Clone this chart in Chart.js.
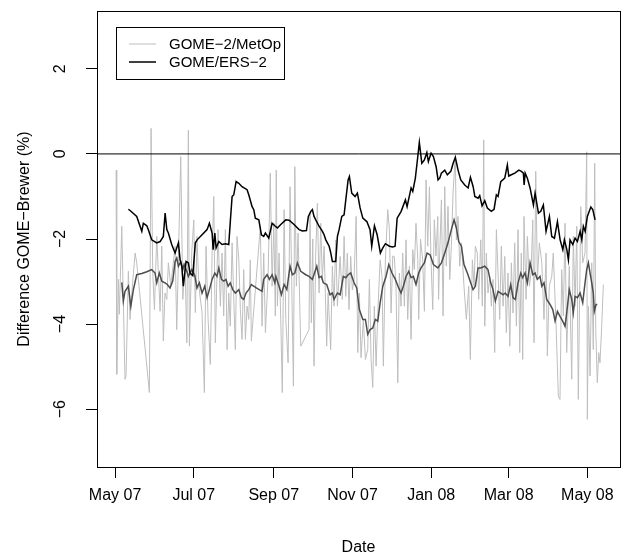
<!DOCTYPE html>
<html>
<head>
<meta charset="utf-8">
<script src="https://cdn.jsdelivr.net/npm/chart.js@4.4.1/dist/chart.umd.min.js"></script>
<style>
html,body{margin:0;padding:0;background:#fff;}
#wrap{width:634px;height:558px;}
</style>
</head>
<body>
<div id="wrap"><canvas id="c" width="634" height="558"></canvas></div>
<script>
// ---- data (x = days since 1 May 2007) ----
const tickDays   = [0, 61, 123, 184, 245, 305, 366];
const tickLabels = ["May 07", "Jul 07", "Sep 07", "Nov 07", "Jan 08", "Mar 08", "May 08"];
const yTicks     = [-6, -4, -2, 0, 2];
const seriesLabels = ["GOME\u22122/MetOp", "GOME/ERS\u22122"];

const metopDays = [0.8,1.3,2.6,3.3,5.2,7.7,8.5,10.3,11.6,13.4,15.5,16.8,26.6,27.9,29.2,30.5,32.3,34.9,36.2,37.4,38.7,40.1,41.3,43.2,46.5,47.8,49.1,50.9,52.5,54.2,55.6,56.8,57.6,59.4,61.0,62.2,63.5,64.9,67.4,69.2,70.5,72.1,73.8,75.2,76.5,77.7,79.8,81.6,82.9,84.2,85.5,86.8,88.1,89.3,90.7,92.0,93.2,94.5,95.9,97.1,98.4,99.7,101.0,102.3,103.6,104.8,105.6,112.6,113.9,115.2,116.5,118.6,120.3,121.7,123.0,124.2,124.9,125.8,127.1,128.4,129.6,131.0,132.3,134.1,135.6,136.9,138.2,139.3,140.5,141.8,143.9,150.3,151.1,152.1,153.2,154.2,155.5,156.8,158.1,159.4,160.6,162.0,164.0,165.1,167.1,168.4,169.7,171.0,172.3,174.4,176.1,177.5,178.8,180.0,181.3,182.6,183.9,185.2,186.8,188.1,189.3,190.6,192.4,194.0,195.8,197.1,198.4,199.7,200.9,202.3,203.6,205.4,206.9,207.9,209.5,211.3,212.6,213.9,215.2,216.4,217.7,219.1,220.3,221.6,222.9,224.2,225.5,226.8,228.1,229.4,230.7,231.9,233.2,234.6,235.3,236.7,238.4,239.7,241.0,242.3,243.6,244.9,246.2,247.4,248.7,250.1,250.7,251.6,252.9,254.2,255.5,256.7,258.0,259.4,260.6,261.9,263.7,264.5,265.8,267.1,268.4,270.4,272.2,274.1,275.3,276.9,278.2,279.2,280.7,281.8,283.4,284.6,285.7,286.5,287.7,289.0,290.4,291.6,292.9,294.2,295.5,296.8,298.1,299.3,300.7,302.0,303.2,304.5,305.9,307.1,308.4,309.7,311.0,312.3,313.6,314.8,315.9,316.9,318.5,319.5,321.1,322.4,323.7,324.7,326.0,327.3,328.8,330.7,332.4,334.0,335.0,336.5,338.4,339.6,341.7,343.5,344.8,346.1,347.4,348.7,350.0,352.0,353.9,355.1,356.5,357.8,359.0,360.9,362.4,364.2,365.5,366.0,366.8,368.1,369.4,370.6,371.7,372.5,373.7,374.8,375.8,377.1,378.4];
const metopDiff = [-0.38,-5.18,-2.95,-3.77,-1.70,-5.30,-5.22,-2.76,-3.89,-3.11,-2.33,-2.56,-5.61,0.60,-2.80,-3.66,-1.94,-3.70,-2.17,-4.40,-3.27,-3.42,-2.56,-3.11,-2.17,-4.13,-2.45,-0.06,-3.42,-2.56,-4.44,0.56,-4.52,-2.33,-1.55,-3.73,-1.94,-3.11,-3.73,-5.61,-2.17,-3.89,-4.95,-2.33,-1.00,-4.44,-1.78,-3.58,-2.33,-3.81,-1.78,-4.60,-3.27,-4.05,-2.09,-3.42,-4.60,-1.94,-2.49,-3.66,-4.36,-2.72,-4.36,-3.58,-3.89,-2.49,-4.40,-1.70,-4.05,-2.33,-4.20,-2.88,-0.45,-3.11,-1.63,-3.81,-0.38,-3.58,-2.33,-3.89,-5.61,-1.31,-3.89,-4.91,-0.77,-3.00,-5.46,-0.30,-3.11,-1.86,-4.52,-4.13,-1.39,-3.97,-2.00,-4.99,-2.33,-1.16,-3.27,-1.63,-2.95,-2.17,-4.52,-3.27,-4.60,-2.64,-3.58,-2.02,-3.58,-2.41,-3.42,-1.94,-3.35,-2.33,-3.66,-2.41,-3.20,-2.95,-1.47,-4.67,-3.27,-4.79,-3.89,-4.83,-4.60,-2.95,-4.83,-5.49,-3.58,-4.99,-3.74,-2.49,-2.88,-4.99,-2.49,-1.31,-1.78,-3.74,-2.40,-2.41,-3.11,-5.38,-2.80,-3.58,-2.33,-3.58,-2.02,-3.89,-2.64,-4.36,-2.25,-2.72,-1.63,-2.49,-3.89,-2.00,-2.49,-3.70,-0.61,-2.17,-0.77,-2.56,-3.66,-1.55,-2.40,-1.47,-3.42,-2.33,-1.08,-3.81,-0.77,-2.64,-1.23,-2.95,-2.17,-0.92,-0.02,-2.02,-1.47,-2.64,-2.09,-3.11,-3.89,-3.11,-4.83,-2.49,-3.11,-2.17,-2.33,-3.42,-2.02,-3.58,0.33,-4.05,-2.33,-3.27,-2.88,-3.58,-2.95,-4.67,-1.78,-2.80,-3.89,-2.17,-3.58,-2.41,-4.20,-2.80,-4.52,-2.56,-3.74,-2.09,-4.05,-1.78,-4.67,-2.33,-4.83,-1.47,-3.42,-1.94,-3.11,-2.80,-1.55,-4.44,-0.41,-2.95,-2.09,-2.56,-3.89,-2.33,-4.75,-3.11,-2.88,-2.33,-3.97,-5.69,-5.77,-2.72,-3.81,-1.63,-4.67,-2.64,-5.30,-1.94,-3.58,-1.70,-5.77,-1.24,-2.56,-2.33,0.05,-6.24,-3.58,-5.22,-2.56,-4.60,-0.22,-4.13,-5.38,-4.67,-4.91,-4.05,-3.07];

const meanDays = [5.2,6.4,7.7,10.3,12.2,14.2,16.8,20.7,24.6,28.4,31.0,32.3,34.3,36.2,38.7,40.5,42.6,44.7,46.5,47.8,49.1,50.9,52.5,53.5,55.6,56.8,59.4,61.8,63.5,65.3,67.4,69.5,71.3,73.1,75.2,77.3,79.0,80.4,82.4,84.2,86.0,87.6,89.3,91.2,93.2,95.9,97.9,99.7,101.5,103.6,105.6,109.5,113.9,115.2,117.8,119.6,121.7,123.8,124.6,127.1,128.9,131.0,133.1,135.6,137.4,139.3,141.3,143.9,147.8,150.3,152.9,156.3,158.1,159.9,161.4,164.0,166.6,168.4,169.7,172.3,174.4,176.9,178.8,180.6,182.6,185.2,187.3,189.3,192.0,194.0,195.8,197.6,199.7,201.7,203.6,205.4,207.5,210.0,212.1,214.6,217.2,219.8,221.6,223.4,225.5,227.6,229.4,231.2,233.2,235.3,237.1,239.7,241.8,244.1,246.7,250.1,252.9,255.5,258.0,260.6,262.7,264.5,266.3,268.4,270.4,273.0,275.6,277.4,279.2,281.3,283.4,286.5,289.0,291.1,292.9,294.7,296.8,298.9,300.7,302.4,304.5,306.6,308.4,310.2,312.3,314.4,315.9,317.7,319.5,321.6,323.7,325.5,327.2,329.3,330.7,332.4,334.5,337.1,339.2,341.0,342.8,344.8,346.9,348.7,350.0,352.0,353.9,355.1,356.5,358.3,360.4,362.4,364.2,365.5,366.8,368.1,369.4,370.6,371.4,372.7,373.7];
const meanDiff = [-3.02,-3.46,-3.23,-3.11,-3.58,-3.19,-2.84,-2.81,-2.77,-2.72,-2.80,-3.03,-2.80,-2.99,-3.03,-3.07,-3.15,-2.99,-2.53,-2.45,-2.64,-2.53,-2.72,-2.60,-2.76,-2.88,-2.72,-2.86,-3.15,-3.03,-3.27,-3.11,-3.38,-3.19,-2.95,-2.80,-2.88,-2.68,-2.95,-2.99,-2.95,-3.11,-3.03,-3.19,-3.27,-3.19,-3.38,-3.42,-3.27,-3.19,-3.07,-3.15,-3.23,-2.95,-2.84,-2.95,-2.84,-3.03,-2.88,-3.11,-3.31,-3.07,-3.19,-2.64,-2.84,-2.80,-2.56,-2.76,-2.84,-2.88,-2.95,-2.64,-2.91,-2.88,-3.03,-3.07,-3.31,-3.27,-3.42,-3.27,-3.31,-2.88,-2.91,-2.84,-2.80,-3.03,-3.15,-3.66,-3.89,-3.89,-4.24,-4.13,-4.09,-3.89,-3.93,-3.50,-3.11,-2.88,-2.60,-2.80,-2.95,-3.15,-3.27,-3.11,-2.88,-2.76,-2.91,-2.88,-3.07,-2.80,-2.68,-2.56,-2.33,-2.37,-2.60,-2.68,-2.56,-2.33,-2.09,-1.78,-1.55,-1.74,-2.06,-2.17,-2.60,-2.80,-3.03,-3.19,-3.11,-2.68,-2.68,-2.64,-2.72,-3.03,-3.19,-3.46,-3.23,-3.27,-3.31,-3.27,-3.35,-3.07,-3.38,-3.42,-3.03,-2.80,-2.91,-2.80,-3.03,-2.56,-2.84,-2.80,-2.95,-2.88,-3.11,-3.03,-3.42,-3.54,-3.66,-3.93,-3.70,-3.82,-3.93,-4.05,-3.74,-3.19,-3.42,-3.74,-3.35,-3.38,-3.27,-3.50,-3.03,-2.72,-2.56,-2.80,-3.03,-3.27,-3.70,-3.54,-3.54];

const ersDays = [10.3,11.6,16.8,20.7,21.9,24.6,25.8,28.4,32.3,34.9,37.4,38.8,40.1,41.3,43.9,46.5,49.1,50.4,51.7,52.9,55.0,56.8,58.1,60.2,62.2,63.6,67.4,71.3,73.1,75.2,76.0,77.3,78.3,80.4,82.9,85.5,88.1,89.4,90.7,92.0,93.8,95.9,98.4,102.3,103.6,106.2,107.5,108.7,111.4,113.4,115.2,116.5,119.1,121.7,124.2,125.8,128.4,132.3,134.9,138.7,142.6,145.2,148.3,149.8,151.7,152.9,154.2,155.5,158.1,160.7,162.0,163.3,165.9,167.2,168.4,171.0,172.3,173.6,175.7,177.5,178.8,180.6,181.6,183.4,186.0,187.8,189.9,192.0,195.1,197.6,198.9,201.0,203.1,205.6,207.5,209.5,212.6,215.2,217.0,218.6,221.7,225.0,226.3,229.4,230.7,232.7,234.6,235.8,237.7,239.7,241.6,242.8,244.9,246.7,248.8,250.3,251.6,252.9,255.5,257.5,260.2,262.0,263.7,265.8,267.9,271.0,273.6,275.4,277.5,278.8,281.3,282.6,284.4,286.5,288.5,291.6,293.7,295.5,296.8,298.9,302.0,304.0,305.1,307.1,309.8,312.9,314.9,316.4,317.0,317.8,319.5,321.6,324.2,325.5,328.1,329.9,331.9,334.0,336.6,338.4,340.5,342.8,344.9,347.0,348.2,350.1,351.3,352.6,354.7,356.5,358.3,360.4,361.7,362.9,364.3,366.0,368.7,370.2,372.0];
const ersDiff = [-1.30,-1.33,-1.47,-1.82,-1.63,-1.69,-1.78,-2.02,-2.09,-2.06,-1.94,-1.39,-1.78,-1.86,-2.13,-2.33,-2.09,-2.49,-2.64,-3.11,-2.53,-2.56,-2.80,-2.86,-2.09,-2.02,-1.90,-1.78,-1.63,-1.86,-2.25,-1.86,-2.21,-2.06,-2.13,-2.11,-2.13,-1.55,-1.00,-0.96,-0.65,-0.69,-0.77,-0.84,-0.96,-1.24,-1.31,-1.51,-1.55,-1.90,-1.94,-1.86,-1.98,-1.63,-1.70,-1.74,-1.66,-1.55,-1.56,-1.66,-1.78,-1.81,-1.80,-1.47,-1.35,-1.31,-1.47,-1.55,-1.70,-1.82,-1.90,-2.02,-2.17,-2.33,-2.53,-2.53,-1.94,-1.78,-1.47,-1.43,-1.08,-0.61,-0.53,-0.92,-1.00,-0.92,-1.27,-1.51,-1.59,-1.78,-2.17,-1.69,-1.90,-2.33,-2.21,-2.11,-2.17,-2.19,-2.17,-1.51,-1.35,-1.08,-1.24,-0.80,-0.88,-0.57,-0.06,0.27,-0.22,-0.14,0.03,-0.18,0.02,-0.06,-0.30,-0.61,-0.57,-0.45,-0.38,-0.49,-0.41,-0.22,-0.08,-0.38,-0.61,-0.73,-0.80,-0.55,-0.77,-1.00,-1.04,-0.98,-1.22,-1.10,-1.27,-1.35,-1.30,-0.96,-1.00,-0.65,-0.57,-0.26,-0.52,-0.49,-0.45,-0.38,-0.41,-0.45,-0.73,-0.45,-0.57,-0.80,-1.20,-0.92,-1.39,-1.35,-1.20,-1.82,-1.47,-1.94,-1.98,-1.59,-2.02,-2.25,-2.02,-2.25,-2.49,-2.02,-2.13,-1.98,-2.06,-1.82,-2.02,-1.70,-1.82,-1.47,-1.25,-1.31,-1.55];

const xMin = -14, xMax = 391.3;
const yMin = -7.36, yMax = 3.36;

// ---- build ----
const pts = (xs, ys) => xs.map((x, i) => ({x: x, y: ys[i]}));
const FONT = "'Liberation Sans', Arial, Helvetica, sans-serif";
const GREY = '#bebebe', DARK = '#4d4d4d';

const decor = {
  id: 'decor',
  afterDraw(chart) {
    const ctx = chart.ctx, a = chart.chartArea;
    const xs = chart.scales.x, ys = chart.scales.y;
    ctx.save();
    ctx.strokeStyle = '#000'; ctx.lineWidth = 1;
    ctx.strokeRect(Math.round(a.left) + 0.5, Math.round(a.top) + 0.5,
                   Math.round(a.right - a.left), Math.round(a.bottom - a.top));
    ctx.fillStyle = '#000';
    ctx.font = '16px ' + FONT;
    ctx.textAlign = 'center'; ctx.textBaseline = 'middle';
    tickDays.forEach((d, i) => {
      ctx.fillText(tickLabels[i], xs.getPixelForValue(d), 496);
    });
    yTicks.forEach(v => {
      ctx.save();
      ctx.translate(61, ys.getPixelForValue(v));
      ctx.rotate(-Math.PI / 2);
      ctx.fillText(v < 0 ? '\u2212' + Math.abs(v) : String(v), 0, 0);
      ctx.restore();
    });
    ctx.fillText('Date', (a.left + a.right) / 2, 548);
    ctx.save();
    ctx.translate(25, (a.top + a.bottom) / 2);
    ctx.rotate(-Math.PI / 2);
    ctx.fillText('Difference GOME\u2212Brewer (%)', 0, 0);
    ctx.restore();
    const lx = 116.5, ly = 27.5, lw = 168, lh = 52;
    ctx.fillStyle = '#fff';
    ctx.fillRect(lx, ly, lw, lh);
    ctx.strokeStyle = '#000';
    ctx.strokeRect(lx, ly, lw, lh);
    const rows = [{c: GREY, w: 1, t: seriesLabels[0], y: 44},
                  {c: '#000', w: 1.5, t: seriesLabels[1], y: 62}];
    ctx.font = '15px ' + FONT;
    ctx.textAlign = 'left';
    rows.forEach(r => {
      ctx.strokeStyle = r.c; ctx.lineWidth = r.w;
      ctx.beginPath(); ctx.moveTo(129, r.y); ctx.lineTo(156, r.y); ctx.stroke();
      ctx.fillStyle = '#000';
      ctx.fillText(r.t, 169, r.y + 0.5);
    });
    ctx.restore();
  }
};

new Chart(document.getElementById('c'), {
  type: 'line',
  data: {
    datasets: [
      {label: seriesLabels[1], data: pts(ersDays, ersDiff), borderColor: '#000', borderWidth: 1.5, order: 0},
      {label: 'zero', data: [{x: xMin, y: 0}, {x: xMax, y: 0}], borderColor: '#000', borderWidth: 1, order: 1},
      {label: 'mean', data: pts(meanDays, meanDiff), borderColor: DARK, borderWidth: 1.5, order: 2},
      {label: seriesLabels[0], data: pts(metopDays, metopDiff), borderColor: GREY, borderWidth: 1, order: 3}
    ]
  },
  options: {
    responsive: false,
    devicePixelRatio: 1,
    animation: false,
    elements: {point: {radius: 0, hoverRadius: 0}, line: {tension: 0, fill: false}},
    layout: {padding: {top: 11, right: 14, left: 0, bottom: 0}},
    plugins: {legend: {display: false}, tooltip: {enabled: false}},
    events: [],
    scales: {
      x: {
        type: 'linear', min: xMin, max: xMax,
        afterBuildTicks(s) { s.ticks = tickDays.map(v => ({value: v})); },
        afterFit(s) { s.height = 91; },
        ticks: {display: false},
        grid: {drawOnChartArea: false, drawTicks: true, tickLength: 11, color: '#000', lineWidth: 1},
        border: {display: false}
      },
      y: {
        type: 'linear', min: yMin, max: yMax,
        afterBuildTicks(s) { s.ticks = yTicks.map(v => ({value: v})); },
        afterFit(s) { s.width = 97; },
        ticks: {display: false},
        grid: {drawOnChartArea: false, drawTicks: true, tickLength: 11, color: '#000', lineWidth: 1},
        border: {display: false}
      }
    }
  },
  plugins: [decor]
});
</script>
</body>
</html>
